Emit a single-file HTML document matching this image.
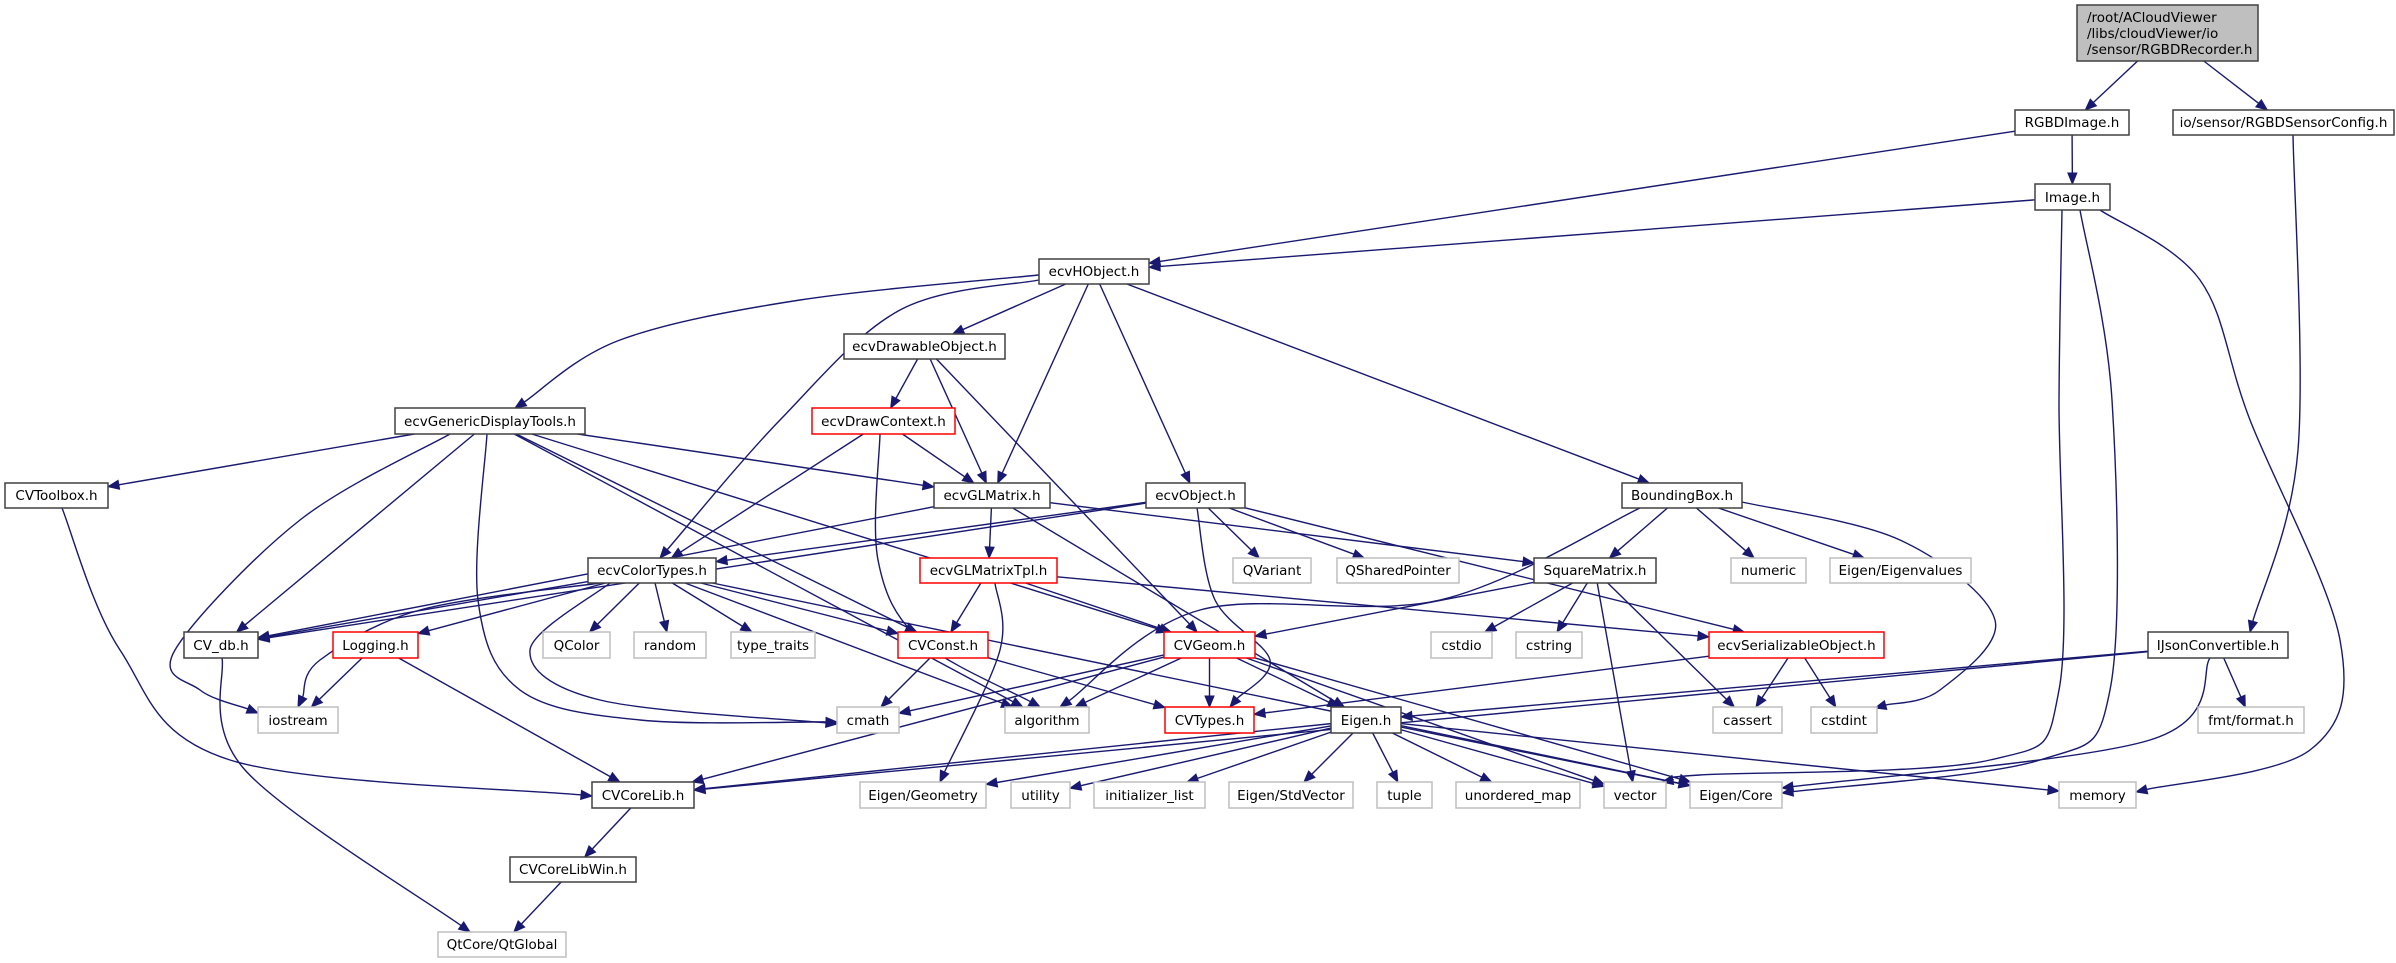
<!DOCTYPE html>
<html><head><meta charset="utf-8"><style>
html,body{margin:0;padding:0;background:#fff;width:2396px;height:963px;overflow:hidden}
svg{display:block}
text{font-family:"DejaVu Sans","Liberation Sans",sans-serif;font-size:13.5px;fill:#000}
</style></head><body>
<svg id="g" width="2396" height="963" viewBox="0 0 2396 963" xmlns="http://www.w3.org/2000/svg"></svg>
<script>
var N={
root:[2077,5,2258,61,'k'],
RGBDImage:[2015,110,2129,135,'k','RGBDImage.h'],
SensorCfg:[2173,110,2394,135,'k','io/sensor/RGBDSensorConfig.h'],
Image:[2035,184,2110,210,'k','Image.h'],
HObject:[1039,259,1149,284,'k','ecvHObject.h'],
Drawable:[844,334,1005,359,'k','ecvDrawableObject.h'],
DrawCtx:[812,408,955,434,'r','ecvDrawContext.h'],
GenDisp:[395,408,585,434,'k','ecvGenericDisplayTools.h'],
Toolbox:[5,483,108,508,'k','CVToolbox.h'],
GLMatrix:[934,483,1050,508,'k','ecvGLMatrix.h'],
Object:[1146,483,1245,508,'k','ecvObject.h'],
BBox:[1622,483,1742,508,'k','BoundingBox.h'],
ColorTypes:[588,558,716,583,'k','ecvColorTypes.h'],
GLTpl:[920,558,1057,583,'r','ecvGLMatrixTpl.h'],
QVariant:[1233,558,1311,583,'g','QVariant'],
QShared:[1337,558,1459,583,'g','QSharedPointer'],
SqMat:[1534,558,1656,583,'k','SquareMatrix.h'],
numeric:[1731,558,1806,583,'g','numeric'],
Eigval:[1830,558,1971,583,'g','Eigen/Eigenvalues'],
CVdb:[184,632,258,658,'k','CV_db.h'],
Logging:[333,632,418,658,'r','Logging.h'],
QColor:[543,632,610,658,'g','QColor'],
random:[634,632,706,658,'g','random'],
typetraits:[731,632,815,658,'g','type_traits'],
CVConst:[898,632,988,658,'r','CVConst.h'],
CVGeom:[1164,632,1255,658,'r','CVGeom.h'],
cstdio:[1431,632,1492,658,'g','cstdio'],
cstring:[1516,632,1582,658,'g','cstring'],
Serial:[1709,632,1884,658,'r','ecvSerializableObject.h'],
IJson:[2148,632,2288,658,'k','IJsonConvertible.h'],
iostream:[258,707,338,733,'g','iostream'],
cmath:[837,707,899,733,'g','cmath'],
algorithm:[1005,707,1089,733,'g','algorithm'],
CVTypes:[1165,707,1254,733,'r','CVTypes.h'],
Eigen:[1331,707,1401,733,'k','Eigen.h'],
cassert:[1713,707,1782,733,'g','cassert'],
cstdint:[1811,707,1877,733,'g','cstdint'],
fmt:[2198,707,2304,733,'g','fmt/format.h'],
CoreLib:[592,782,694,808,'k','CVCoreLib.h'],
Geometry:[860,782,986,808,'g','Eigen/Geometry'],
utility:[1011,782,1070,808,'g','utility'],
initl:[1094,782,1205,808,'g','initializer_list'],
StdVec:[1229,782,1353,808,'g','Eigen/StdVector'],
tuple:[1377,782,1432,808,'g','tuple'],
umap:[1456,782,1580,808,'g','unordered_map'],
vector:[1604,782,1666,808,'g','vector'],
ECore:[1690,782,1782,808,'g','Eigen/Core'],
memory:[2059,782,2136,808,'g','memory'],
CoreLibWin:[510,857,636,882,'k','CVCoreLibWin.h'],
QtGlobal:[438,932,566,957,'g','QtCore/QtGlobal']
};
var E=[['root','RGBDImage'],['root','SensorCfg'],['RGBDImage','Image'],['RGBDImage','HObject'],
['Image','HObject'],
['Image','vector',[[2062,210],[2059,400],[2059,690],[1990,760],[1700,775],[1662,782]]],
['Image','ECore',[[2080,210],[2112,400],[2110,690],[2040,760],[1782,793]]],
['Image','memory',[[2100,210],[2200,280],[2250,420],[2340,640],[2310,750],[2136,792]]],
['SensorCfg','IJson',[[2293,135],[2298,450],[2250,632]]],
['HObject','GenDisp',[[1039,275],[800,300],[620,340],[515,408]]],['HObject','Drawable'],
['HObject','ColorTypes',[[1039,280],[900,310],[780,420],[660,558]]],['HObject','GLMatrix'],['HObject','Object'],['HObject','BBox'],
['Drawable','DrawCtx'],['Drawable','GLMatrix'],['Drawable','CVGeom'],
['DrawCtx','GLMatrix'],['DrawCtx','ColorTypes'],['DrawCtx','algorithm',[[880,434],[878,560],[920,640],[1040,707]]],
['GenDisp','Toolbox'],['GenDisp','CVdb'],
['GenDisp','iostream',[[450,434],[300,520],[175,650],[200,690],[258,713]]],
['GenDisp','cmath',[[487,434],[478,600],[520,690],[640,720],[837,722]]],['GenDisp','CVConst'],['GenDisp','algorithm'],['GenDisp','GLMatrix'],['GenDisp','CVGeom'],
['Toolbox','CoreLib',[[62,508],[120,650],[230,760],[592,796]]],
['GLMatrix','GLTpl'],['GLMatrix','CVdb'],['GLMatrix','SqMat'],['GLMatrix','Eigen'],
['Object','ColorTypes'],['Object','CVdb'],['Object','QVariant'],['Object','QShared'],
['Object','CVTypes',[[1197,508],[1215,600],[1270,660],[1230,707]]],['Object','Serial'],
['BBox','SqMat'],['BBox','numeric'],['BBox','Eigval'],
['BBox','cstdint',[[1742,502],[1900,540],[1995,620],[1940,690],[1875,708]]],['BBox','algorithm',[[1640,508],[1440,600],[1200,610],[1060,707]]],
['GLTpl','CVConst'],['GLTpl','CVGeom'],['GLTpl','Geometry',[[995,583],[1000,650],[940,782]]],['GLTpl','Serial'],
['ColorTypes','CVdb'],['ColorTypes','Logging'],['ColorTypes','QColor'],['ColorTypes','random'],['ColorTypes','typetraits'],['ColorTypes','CVConst'],['ColorTypes','algorithm'],
['ColorTypes','cmath',[[610,583],[530,650],[600,700],[837,724]]],['ColorTypes','iostream',[[600,583],[420,610],[320,660],[298,707]]],['ColorTypes','ECore'],
['SqMat','CVGeom'],['SqMat','cstdio'],['SqMat','cstring'],['SqMat','cassert'],['SqMat','vector'],
['CVdb','QtGlobal',[[222,658],[245,770],[470,932]]],['Logging','iostream'],['Logging','CoreLib'],
['CVConst','cmath'],['CVConst','CVTypes'],
['CVGeom','cmath'],['CVGeom','algorithm'],['CVGeom','CVTypes'],['CVGeom','Eigen'],['CVGeom','CoreLib'],['CVGeom','vector'],['CVGeom','ECore'],
['Serial','cassert'],['Serial','cstdint'],['Serial','CVTypes'],
['IJson','fmt'],['IJson','ECore',[[2210,658],[2150,740],[1782,788]]],['IJson','Eigen'],['IJson','CoreLib'],
['Eigen','CoreLib'],['Eigen','Geometry'],['Eigen','utility'],['Eigen','initl'],['Eigen','StdVec'],['Eigen','tuple'],['Eigen','umap'],['Eigen','vector'],['Eigen','ECore'],['Eigen','memory'],
['CoreLib','CoreLibWin'],['CoreLibWin','QtGlobal']];
var s='';var C='#191970';
function clip(b,cx,cy,dx,dy){var hw=(b[2]-b[0])/2,hh=(b[3]-b[1])/2;var t=Math.min(dx?hw/Math.abs(dx):1e9,dy?hh/Math.abs(dy):1e9);return [cx+dx*t,cy+dy*t];}
function head(q,ux,uy){var hl=11,hw=4.5;var bx=q[0]-ux*hl,by=q[1]-uy*hl;
s+='<polygon points="'+q[0]+','+q[1]+' '+(bx-uy*hw)+','+(by+ux*hw)+' '+(bx+uy*hw)+','+(by-ux*hw)+'" fill="'+C+'" stroke="'+C+'"/>';return [bx,by];}
E.forEach(function(e){var a=N[e[0]],b=N[e[1]];
if(e[2]){var P=e[2].slice();var n=P.length;var q=P[n-1],p=P[n-2];var L=Math.hypot(q[0]-p[0],q[1]-p[1]);var ux=(q[0]-p[0])/L,uy=(q[1]-p[1])/L;
var be=head(q,ux,uy);P[n-1]=be;
var d='M'+P[0][0]+','+P[0][1];
for(var i=0;i<n-1;i++){var p0=P[i-1]||P[i],p1=P[i],p2=P[i+1],p3=P[i+2]||P[i+1];
d+=' C'+(p1[0]+(p2[0]-p0[0])/6)+','+(p1[1]+(p2[1]-p0[1])/6)+' '+(p2[0]-(p3[0]-p1[0])/6)+','+(p2[1]-(p3[1]-p1[1])/6)+' '+p2[0]+','+p2[1];}
s+='<path d="'+d+'" fill="none" stroke="'+C+'" stroke-width="1.4"/>';return;}
var ax=(a[0]+a[2])/2,ay=(a[1]+a[3])/2,bx=(b[0]+b[2])/2,by=(b[1]+b[3])/2;
var dx=bx-ax,dy=by-ay;var p=clip(a,ax,ay,dx,dy),q=clip(b,bx,by,-dx,-dy);
var L=Math.hypot(q[0]-p[0],q[1]-p[1]),ux=(q[0]-p[0])/L,uy=(q[1]-p[1])/L;
var be=head(q,ux,uy);
s+='<line x1="'+p[0]+'" y1="'+p[1]+'" x2="'+be[0]+'" y2="'+be[1]+'" stroke="'+C+'" stroke-width="1.4"/>';
});
for(var k in N){var n=N[k];var col=n[4]=='r'?'#ff0000':n[4]=='g'?'#bfbfbf':'#404040';
var fill=k=='root'?'#bfbfbf':'#fff';
s+='<rect x="'+n[0]+'" y="'+n[1]+'" width="'+(n[2]-n[0])+'" height="'+(n[3]-n[1])+'" fill="'+fill+'" stroke="'+col+'" stroke-width="1.5"/>';
if(k=='root'){s+='<text x="'+(n[0]+10)+'" y="'+(n[1]+17)+'">/root/ACloudViewer</text><text x="'+(n[0]+10)+'" y="'+(n[1]+33)+'">/libs/cloudViewer/io</text><text x="'+(n[0]+10)+'" y="'+(n[1]+49)+'">/sensor/RGBDRecorder.h</text>';}
else s+='<text x="'+((n[0]+n[2])/2)+'" y="'+(n[3]-8)+'" text-anchor="middle">'+n[5]+'</text>';}
document.getElementById('g').innerHTML=s;
</script>
</body></html>
